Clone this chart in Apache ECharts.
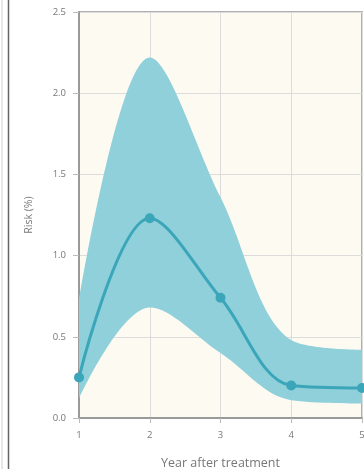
<!DOCTYPE html>
<html><head><meta charset="utf-8">
<script src="https://cdn.jsdelivr.net/npm/echarts@6/dist/echarts.min.js"></script>
<style>html,body{margin:0;padding:0;background:#fff}#c{width:364px;height:469px}</style>
</head><body><div id="c"></div>
<script>
const years = ['1', '2', '3', '4', '5'];
const risk = [0.25, 1.23, 0.74, 0.20, 0.185];
const lower = [0.12, 0.68, 0.40, 0.11, 0.09];
const upper = [0.72, 2.22, 1.36, 0.48, 0.42];
const yTicks = ['0.0', '0.5', '1.0', '1.5', '2.0', '2.5'];

const chart = echarts.init(document.getElementById('c'));
const font = 'Open Sans';
chart.setOption({
  animation: false,
  grid: { left: 79, right: 2, top: 12, bottom: 51, containLabel: false, outerBoundsMode: 'none',
    show: true, backgroundColor: '#fdfaf1', borderColor: '#b0b0b0', borderWidth: 2 },
  graphic: [
    { type: 'line', shape: { x1: 2, y1: 0, x2: 2, y2: 469 }, style: { stroke: '#cfcfcf', lineWidth: 1 } },
    { type: 'line', shape: { x1: 8.5, y1: 0, x2: 8.5, y2: 469 }, style: { stroke: '#666', lineWidth: 1.5 } }
  ],
  xAxis: {
    type: 'category', data: years, boundaryGap: false,
    name: 'Year after treatment', nameLocation: 'middle', nameGap: 39,
    nameTextStyle: { color: '#777', fontSize: 12.5, fontFamily: font },
    axisLine: { show: true, lineStyle: { color: '#9a9a9a', width: 2 } },
    axisTick: { show: true, length: 5, lineStyle: { color: '#bbb' } },
    axisLabel: { color: '#777', fontSize: 9.5, fontFamily: font, margin: 12 },
    splitLine: { show: true, lineStyle: { color: '#dcdcdc', width: 1 } }
  },
  yAxis: {
    type: 'value', min: 0, max: 2.5, interval: 0.5,
    name: 'Risk (%)', nameLocation: 'middle', nameGap: 44,
    nameTextStyle: { color: '#777', fontSize: 10.5, fontFamily: font },
    axisLine: { show: true, lineStyle: { color: '#9a9a9a', width: 2 } },
    axisTick: { show: true, length: 6, lineStyle: { color: '#bbb' } },
    axisLabel: { color: '#777', fontSize: 9.5, fontFamily: font, margin: 13,
      formatter: (v) => yTicks[Math.round(v / 0.5)] },
    splitLine: { show: true, lineStyle: { color: '#dcdcdc', width: 1 } }
  },
  series: [
    { type: 'line', stack: 'band', smooth: 0.35, symbol: 'none', lineStyle: { opacity: 0 },
      data: lower },
    { type: 'line', stack: 'band', smooth: 0.35, symbol: 'none', lineStyle: { opacity: 0 },
      areaStyle: { color: '#8fd0da', opacity: 1 },
      data: upper.map((u, i) => +(u - lower[i]).toFixed(3)) },
    { type: 'line', smooth: 0.35, symbol: 'circle', symbolSize: 10,
      lineStyle: { color: '#3ba6b9', width: 3 }, itemStyle: { color: '#3ba6b9' },
      data: risk }
  ]
});
</script></body></html>
